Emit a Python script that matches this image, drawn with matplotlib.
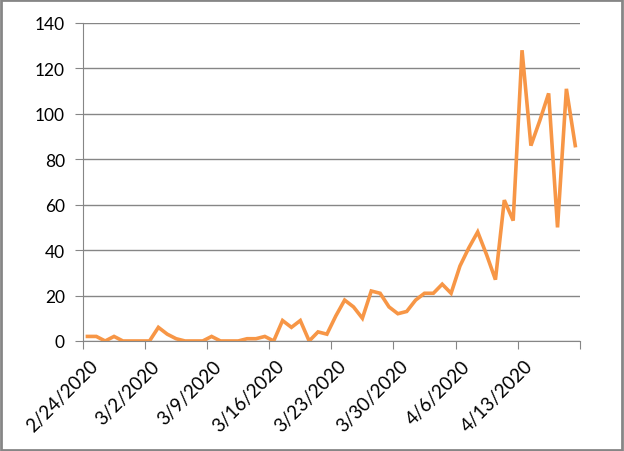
import matplotlib
matplotlib.use("Agg")
import matplotlib.pyplot as plt
from matplotlib.patches import Rectangle
from matplotlib.transforms import ScaledTranslation
import numpy as np
import pandas as pd

# daily values, 2/24/2020 .. 4/19/2020
dates = pd.date_range("2020-02-24", "2020-04-19", freq="D")
values = [2, 2, 0, 2, 0, 0, 0, 0, 6, 3, 1, 0, 0, 0, 2, 0, 0, 0, 1, 1,
          2, 0, 9, 6, 9, 0, 4, 3, 11, 18, 15, 10, 22, 21, 15, 12, 13, 18, 21, 21,
          25, 21, 33, 41, 48, 38, 27, 62, 53, 128, 86, 97, 109, 50, 111, 86]
tick_labels = ["2/24/2020", "3/2/2020", "3/9/2020", "3/16/2020", "3/23/2020",
               "3/30/2020", "4/6/2020", "4/13/2020", ""]
y_ticks = [0, 20, 40, 60, 80, 100, 120, 140]

plt.rcParams['font.family'] = ['Lato', 'DejaVu Sans']
grey = '#868686'

fig = plt.figure(figsize=(6.24, 4.52), dpi=100)
ax = fig.add_axes([0.133, 0.2434, 0.796, 0.7036])

half = pd.Timedelta(hours=12)
ax.plot(dates, values, color='#F79646', lw=2.6, solid_joinstyle='miter')

ax.set_xlim(dates[0] - half, dates[-1] + half)
ax.set_ylim(0, 140)
ax.set_yticks(y_ticks)
ax.set_xticks([dates[0] - half + pd.Timedelta(days=7 * i) for i in range(len(tick_labels))])
ax.set_xticklabels(tick_labels, rotation=45, ha='right', rotation_mode='anchor')

ax.grid(axis='y', color=grey, lw=1)
ax.set_axisbelow(True)
for s in ['top', 'right']:
    ax.spines[s].set_visible(False)
for s in ['left', 'bottom']:
    ax.spines[s].set_color(grey)
ax.tick_params(axis='both', direction='out', length=6, color=grey, labelcolor='black')
ax.tick_params(axis='y', pad=7, labelsize=12.5)
ax.tick_params(axis='x', pad=4, labelsize=13.5)

# shift the rotated date labels a little to the right, like Excel does
shift = ScaledTranslation(6 / 100, -2 / 100, fig.dpi_scale_trans)
for lab in ax.get_xticklabels():
    lab.set_transform(lab.get_transform() + shift)

# outer chart border
fig.patches.append(Rectangle((0.001, 0.002), 0.996, 0.995, transform=fig.transFigure,
                             fill=False, edgecolor=grey, lw=2))

fig.savefig("out.png", dpi=100)
